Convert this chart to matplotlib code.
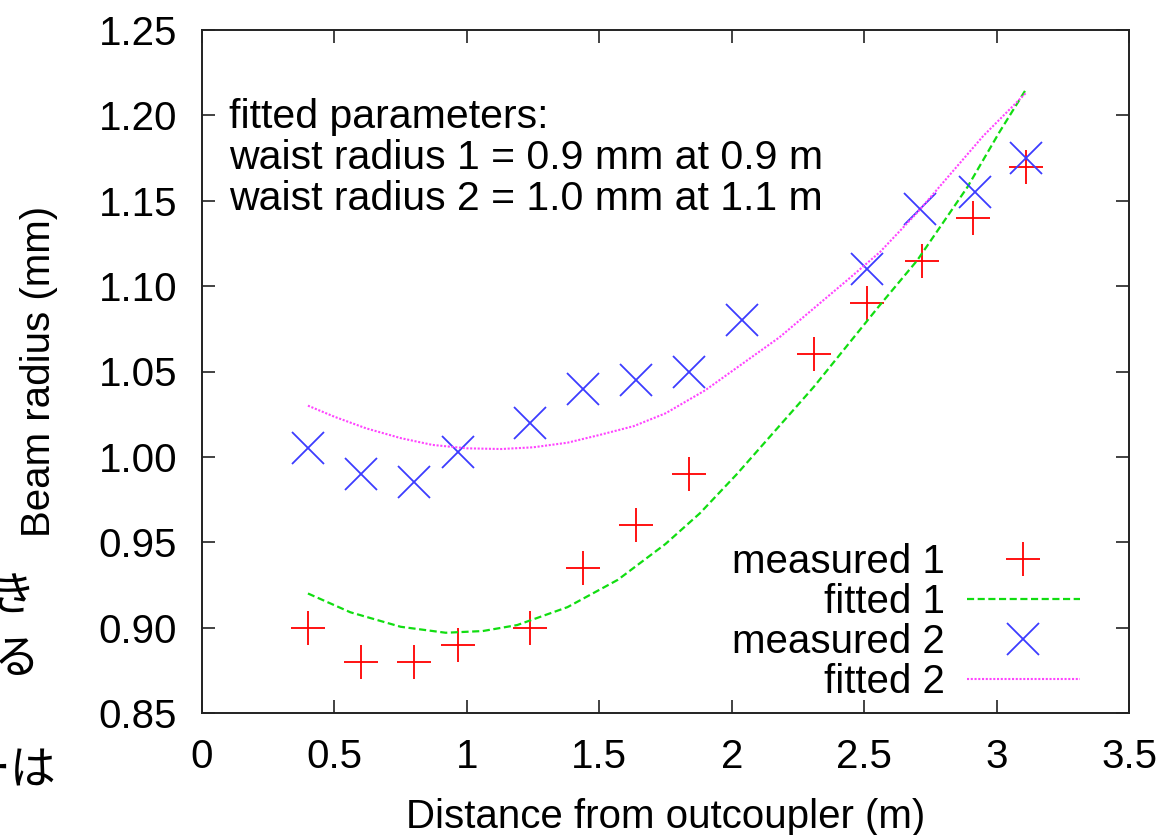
import matplotlib
matplotlib.use("Agg")
import matplotlib.pyplot as plt
from matplotlib.ticker import FormatStrFormatter

plt.rcParams['font.family'] = ['Liberation Sans', 'DejaVu Sans']

#########################################################
# DATA
#########################################################

# measured 1
dist_1 = [0.40, 0.60, 0.80, 0.965, 1.24, 1.44, 1.64, 1.84, 2.31, 2.51, 2.72, 2.91, 3.11]
radius_1 = [0.900, 0.880, 0.880, 0.890, 0.900, 0.935, 0.960, 0.990, 1.060, 1.090, 1.115, 1.140, 1.170]

# measured 2
dist_2 = [0.40, 0.60, 0.80, 0.965, 1.24, 1.44, 1.64, 1.84, 2.04, 2.51, 2.71, 2.92, 3.11]
radius_2 = [1.005, 0.990, 0.985, 1.003, 1.020, 1.040, 1.045, 1.050, 1.080, 1.110, 1.145, 1.155, 1.175]

# fitted 1 curve
fit_x_1 = [0.40, 0.56, 0.75, 0.92, 1.06, 1.19, 1.38, 1.57, 1.75, 1.88, 2.02,
           2.31, 2.56, 2.70, 2.89, 3.01, 3.11]
fit_y_1 = [0.920, 0.909, 0.9005, 0.897, 0.898, 0.9015, 0.912, 0.928, 0.949, 0.967, 0.990,
           1.041, 1.089, 1.115, 1.158, 1.190, 1.215]

# fitted 2 curve
fit_x_2 = [0.40, 0.50, 0.62, 0.75, 0.87, 1.00, 1.13, 1.25, 1.38, 1.50, 1.63,
           1.75, 1.90, 2.18, 2.44, 2.56, 2.70, 2.95, 3.11]
fit_y_2 = [1.030, 1.0235, 1.0167, 1.011, 1.007, 1.005, 1.0046, 1.0056, 1.0083, 1.0128, 1.018,
           1.0255, 1.039, 1.070, 1.104, 1.120, 1.143, 1.188, 1.213]

x_ticks = [0, 0.5, 1, 1.5, 2, 2.5, 3, 3.5]
x_tick_labels = ["0", "0.5", "1", "1.5", "2", "2.5", "3", "3.5"]
y_ticks = [0.85, 0.90, 0.95, 1.00, 1.05, 1.10, 1.15, 1.20, 1.25]

info_lines = ["fitted parameters:",
              "waist radius 1 = 0.9 mm at 0.9 m",
              "waist radius 2 = 1.0 mm at 1.1 m"]

#########################################################
# STYLE
#########################################################
FS = 29
RED = "#ff0000"
GREEN = "#11dd11"
BLUE = "#3c3cff"
MAGENTA = "#ff44ff"

W, H = 1167, 835
fig = plt.figure(figsize=(W / 100, H / 100), dpi=100)
ax = fig.add_axes([202 / W, 1 - 713 / H, (1129 - 202) / W, (713 - 30) / H])

#########################################################
# PLOT
#########################################################
ax.plot(dist_1, radius_1, linestyle="none", marker="+", markersize=25,
        markeredgewidth=1.3, color=RED, label="measured 1")
ax.plot(fit_x_1, fit_y_1, linestyle=(0, (3.2, 1.6)), linewidth=1.6,
        color=GREEN, label="fitted 1")
ax.plot(dist_2, radius_2, linestyle="none", marker="x", markersize=23,
        markeredgewidth=1.3, color=BLUE, label="measured 2")
ax.plot(fit_x_2, fit_y_2, linestyle=(0, (1, 0.8)), linewidth=1.5,
        color=MAGENTA, label="fitted 2")

ax.set_xlim(0, 3.5)
ax.set_ylim(0.85, 1.25)
ax.set_xticks(x_ticks)
ax.set_yticks(y_ticks)
ax.set_xticklabels(x_tick_labels)
ax.yaxis.set_major_formatter(FormatStrFormatter("%.2f"))

ax.tick_params(direction="in", length=9.5, width=1.2, labelsize=FS,
               top=True, right=True, pad=18, colors="#222222",
               labelcolor="black")
for spine in ax.spines.values():
    spine.set_linewidth(1.4)
    spine.set_color("#222222")

ax.set_xlabel("Distance from outcoupler (m)", fontsize=FS, va="top")
ax.xaxis.set_label_coords(0.5, -0.124)
ax.set_ylabel("Beam radius (mm)", fontsize=FS)
ax.yaxis.set_label_coords(-0.155, 0.5)

# text block
for i, line in enumerate(info_lines):
    ax.text(0.102, 1.1926 - i * 0.0240, line, fontsize=29.5, ha="left",
            va="baseline")

leg = ax.legend(loc="lower right", bbox_to_anchor=(0.947, 0.018),
                frameon=False, markerfirst=False, handlelength=2.8,
                handletextpad=0.55, labelspacing=0.05, borderpad=0,
                borderaxespad=0, fontsize=FS, numpoints=1)

# cropped slide text on the left edge
cjk = ["Noto Sans CJK JP", "DejaVu Sans"]
fig.text(36 / W, 1 - 598 / H, "き", fontsize=33, ha="right", va="center", family=cjk)
fig.text(40 / W, 1 - 660 / H, "る", fontsize=33, ha="right", va="center", family=cjk)
fig.text(56 / W, 1 - 771 / H, "ーは", fontsize=33, ha="right", va="center", family=cjk)

fig.savefig("out.png", dpi=100)
